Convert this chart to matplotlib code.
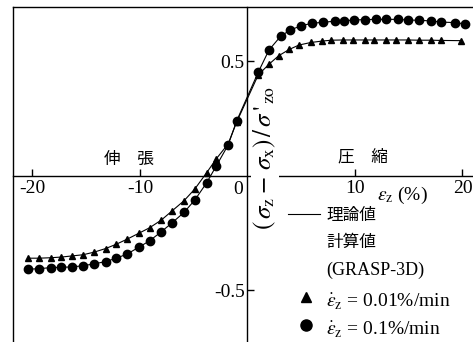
import matplotlib
matplotlib.use("Agg")
import matplotlib.pyplot as plt

plt.rcParams['font.family'] = ['Liberation Serif', 'Noto Sans CJK JP']
plt.rcParams['mathtext.fontset'] = 'stix'

# strain eps_z (%) on the extension side (negative) and compression side (positive)
x_left = [-20.4, -19.4, -18.3, -17.3, -16.3, -15.3, -14.3, -13.2, -12.2, -11.2,
          -10.1, -9.1, -8.0, -7.0, -5.9, -4.9, -3.8, -2.9, -1.8, -1.0]

# rate 0.01 %/min (triangles)
slow_left = [-0.359, -0.359, -0.357, -0.354, -0.349, -0.344, -0.333, -0.317, -0.298, -0.276,
             -0.250, -0.226, -0.192, -0.152, -0.108, -0.057, 0.014, 0.075, 0.140, 0.236]
x_slow_right = [1.0, 2.0, 2.9, 3.9, 4.8, 5.9, 6.9, 7.8, 8.9, 9.8,
                10.9, 11.8, 12.9, 13.8, 14.9, 16.0, 17.1, 18.0, 19.9]
slow_right = [0.441, 0.488, 0.525, 0.553, 0.572, 0.583, 0.589, 0.593, 0.594, 0.594,
              0.594, 0.594, 0.594, 0.594, 0.594, 0.593, 0.593, 0.592, 0.591]

# rate 0.1 %/min (circles)
fast_left = [-0.407, -0.405, -0.400, -0.399, -0.397, -0.392, -0.384, -0.374, -0.359, -0.341,
             -0.311, -0.283, -0.243, -0.204, -0.159, -0.105, -0.030, 0.044, 0.135, 0.241]
x_fast_right = [1.0, 2.0, 3.1, 4.0, 5.0, 6.0, 7.0, 8.1, 9.0, 9.9,
                10.9, 12.0, 12.9, 14.0, 14.9, 16.0, 17.1, 18.0, 19.3, 20.2]
fast_right = [0.453, 0.550, 0.611, 0.638, 0.656, 0.667, 0.671, 0.676, 0.678, 0.681,
              0.683, 0.684, 0.684, 0.684, 0.681, 0.680, 0.677, 0.672, 0.670, 0.664]

x_ticks = [-20, -10, 10, 20]
x_ticklabels = ['-20', '-10', '10', '20']
y_ticks = [0.5, -0.5]
y_ticklabels = ['0.5', '-0.5']

fig = plt.figure(figsize=(4.73, 3.42), dpi=100)
ax = fig.add_axes([13 / 473, 0, 460 / 473, 335 / 342])
ax.set_xlim(-21.81, 20.98)
ax.set_ylim(-0.725, 0.738)

# axes crossing at the origin, plus a frame on the left and top
ax.spines['left'].set_position(('data', 0))
ax.spines['bottom'].set_position(('data', 0))
ax.spines['right'].set_visible(False)
for s in ['left', 'bottom', 'top']:
    ax.spines[s].set_linewidth(1.0)
ax.spines['left'].set_zorder(5)  # keep the vertical axis above the label's white box
ax.plot([0, 0], [0, 1], transform=ax.transAxes, color='black', lw=1.0, clip_on=False)

ax.set_xticks(x_ticks)
ax.set_xticklabels(x_ticklabels)
ax.set_yticks(y_ticks)
ax.set_yticklabels(y_ticklabels)
ax.tick_params(axis='both', direction='in', length=5, width=1, labelsize=14)
ax.tick_params(axis='x', pad=3)
ax.tick_params(axis='y', pad=2)
ax.text(-0.88, -0.057, '0', fontsize=14, ha='center', va='center')

# theory lines and GRASP-3D points
xs = x_left + x_slow_right
ys = slow_left + slow_right
ax.plot(xs, ys, '-', color='black', lw=0.8, zorder=5)
ax.plot(xs, ys, '^', color='black', ms=5, ls='none', zorder=5)
xf = x_left + x_fast_right
yf = fast_left + fast_right
ax.plot(xf, yf, '-', color='black', lw=0.8, zorder=5)
ax.plot(xf, yf, 'o', color='black', ms=6, ls='none', zorder=5)

# annotations
ax.text(-11.0, 0.072, '伸　張', fontsize=12, ha='center', va='center')
ax.text(10.7, 0.079, '圧　縮', fontsize=12, ha='center', va='center')
ax.text(12.05, -0.083, r"$\varepsilon_{\mathrm{z}}$ (%)", fontsize=14, ha='left', va='center')
ax.text(1.6, 0.079,
        r"$(\,\sigma_{\mathrm{z}} -\, \sigma_{\mathrm{x}})\,/\,\sigma\,'_{\mathrm{\,zo}}$",
        fontsize=18, rotation=90, ha='center', va='center', zorder=4,
        bbox=dict(facecolor='white', edgecolor='none', pad=0.5))

# legend
ax.plot([3.77, 6.74], [-0.166, -0.166], color='black', lw=0.8)
ax.text(7.3, -0.175, '理論値', fontsize=12, ha='left', va='center')
ax.text(7.3, -0.293, '計算値', fontsize=12, ha='left', va='center')
ax.text(7.3, -0.41, '(GRASP-3D)', fontsize=13, ha='left', va='center')
ax.plot([5.44], [-0.528], '^', color='black', ms=7)
ax.text(7.3, -0.55, r"$\dot{\varepsilon}_{\mathrm{z}}$ = 0.01%/min", fontsize=14, ha='left', va='center')
ax.plot([5.44], [-0.651], 'o', color='black', ms=8)
ax.text(7.3, -0.672, r"$\dot{\varepsilon}_{\mathrm{z}}$ = 0.1%/min", fontsize=14, ha='left', va='center')

fig.savefig('out.png', dpi=100)
